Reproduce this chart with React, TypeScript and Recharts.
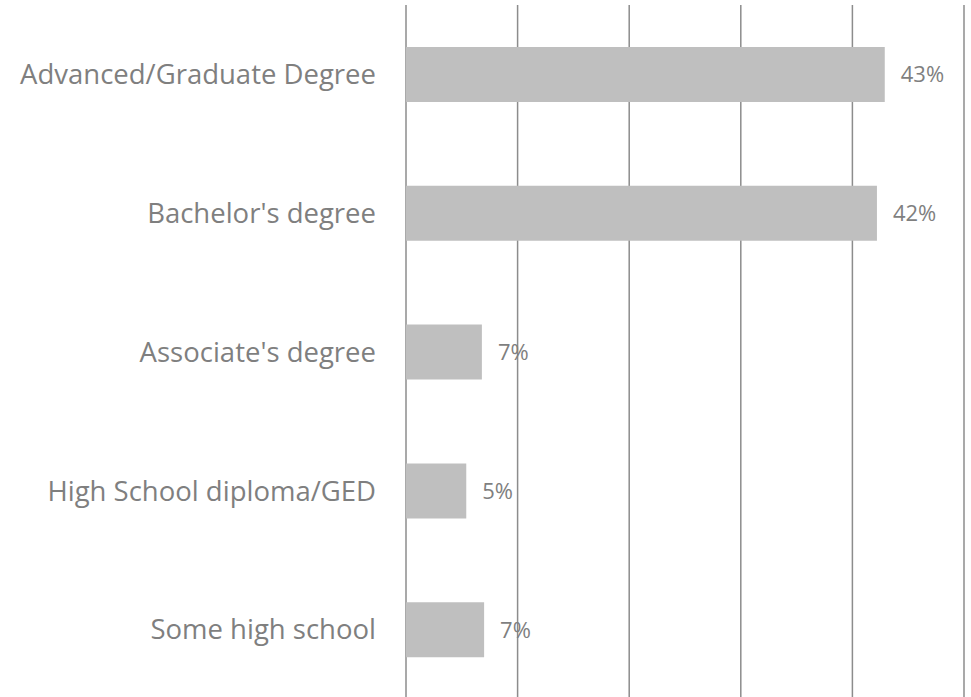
import React from "react";
import { BarChart, Bar, XAxis, YAxis, CartesianGrid, LabelList } from "recharts";

const categories = [
  "Advanced/Graduate Degree",
  "Bachelor's degree",
  "Associate's degree",
  "High School diploma/GED",
  "Some high school",
];
const shares = [42.9, 42.2, 6.8, 5.4, 7.0];
const xTicks = [0, 10, 20, 30, 40, 50];

const data = categories.map((c, i) => ({ name: c, value: shares[i] }));

const FONT = "'Open Sans', sans-serif";

export default function App() {
  return (
    <div style={{ position: "absolute", left: 0, top: 0, width: 971, height: 697, overflow: "hidden", background: "#fff" }}>
      <BarChart
        width={971}
        height={699}
        data={data}
        layout="vertical"
        margin={{ top: 5, right: 7, bottom: 0, left: 0 }}
      >
        <CartesianGrid horizontal={false} vertical={true} stroke="#8c8c8c" strokeWidth={1.5} />
        <XAxis type="number" domain={[0, 50]} ticks={xTicks} hide />
        <YAxis
          type="category"
          dataKey="name"
          width={406}
          axisLine={false}
          tickLine={false}
          tickSize={0}
          tickMargin={30}
          tick={{ fill: "#7f7f7f", fontSize: 27.5, fontFamily: FONT }}
        />
        <Bar dataKey="value" fill="#bfbfbf" barSize={55} isAnimationActive={false}>
          <LabelList
            dataKey="value"
            position="right"
            offset={16}
            formatter={(v: number) => `${Math.round(v)}%`}
            style={{ fill: "#7f7f7f", fontSize: 22, fontFamily: FONT }}
          />
        </Bar>
      </BarChart>
    </div>
  );
}
